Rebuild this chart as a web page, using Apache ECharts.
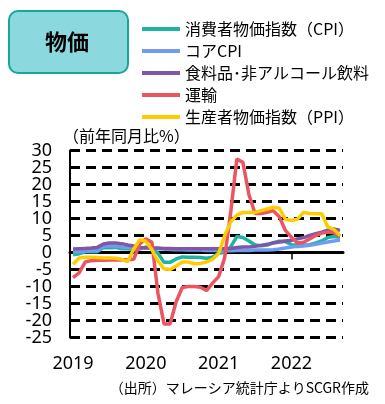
<!DOCTYPE html>
<html>
<head>
<meta charset="utf-8">
<script src="https://cdn.jsdelivr.net/npm/echarts@6/dist/echarts.min.js"></script>
<style>
html,body{margin:0;padding:0;background:#fff;}
#chart{width:385px;height:404px;}
</style>
</head>
<body>
<div id="chart"></div>
<script>
const months = [
 '2019-01','2019-02','2019-03','2019-04','2019-05','2019-06','2019-07','2019-08','2019-09','2019-10','2019-11','2019-12',
 '2020-01','2020-02','2020-03','2020-04','2020-05','2020-06','2020-07','2020-08','2020-09','2020-10','2020-11','2020-12',
 '2021-01','2021-02','2021-03','2021-04','2021-05','2021-06','2021-07','2021-08','2021-09','2021-10','2021-11','2021-12',
 '2022-01','2022-02','2022-03','2022-04','2022-05','2022-06','2022-07','2022-08','2022-09'
];
const yearLabels = ['2019','2020','2021','2022'];
const yMin = -25, yMax = 30, yStep = 5;

const seriesNames = ['消費者物価指数（CPI）','コアCPI','食料品･非アルコール飲料','運輸','生産者物価指数（PPI）'];
const seriesColors = ['#1fb3a3','#6f9cf0','#7e57a6','#eb5562','#ffcc00'];

const cpi = [-0.7,-0.4,0.2,0.2,0.2,1.5,1.4,1.5,1.1,1.1,0.9,1.0,
 1.6,1.3,-0.2,-2.9,-2.9,-1.9,-1.3,-1.4,-1.4,-1.5,-1.7,-1.4,
 -0.2,0.1,1.7,4.7,4.4,3.4,2.2,2.0,2.2,2.9,3.3,3.2,
 2.3,2.2,2.2,2.3,2.8,3.4,4.4,4.7,4.5];
const coreCpi = [0.2,0.3,0.4,0.5,0.5,1.8,1.9,1.9,1.6,1.5,1.4,1.3,
 1.3,1.2,1.1,1.0,0.9,0.8,0.8,0.7,0.7,0.7,0.6,0.6,
 0.6,0.5,0.5,0.6,0.6,0.6,0.7,0.7,0.7,0.8,1.0,1.3,
 1.6,1.8,1.9,2.1,2.4,2.8,3.1,3.4,3.7];
const food = [1.0,1.1,1.2,1.3,1.5,2.5,2.8,2.8,2.6,2.2,1.9,1.5,
 1.4,1.3,1.3,1.2,1.2,1.1,1.1,1.1,1.1,1.1,1.1,1.1,
 1.1,1.1,1.2,1.5,1.6,1.6,1.8,2.1,2.4,2.8,3.1,3.4,
 3.6,4.0,4.4,5.0,5.5,6.0,6.6,6.9,6.5];
const transport = [-7.4,-6.0,-2.8,-2.4,-2.3,-2.3,-2.2,-2.2,-2.2,-2.1,-2.0,2.5,
 4.0,3.0,-12.0,-21.0,-21.0,-14.5,-10.3,-10.0,-10.0,-10.2,-11.2,-9.0,
 -7.1,-1.5,12.0,27.5,26.5,17.0,11.5,11.5,11.8,12.3,10.5,6.5,
 4.5,2.8,3.0,4.0,5.0,5.7,6.0,5.8,4.8];
const ppi = [-3.5,-1.6,-1.4,-1.4,-1.5,-1.6,-1.6,-1.7,-2.0,-2.7,1.0,3.8,
 3.3,0.8,-2.5,-4.8,-5.0,-4.0,-2.8,-2.8,-3.3,-3.2,-2.8,-2.0,
 -0.3,5.0,9.0,11.0,11.8,11.8,11.8,12.3,12.8,13.3,13.0,9.8,
 9.4,9.8,11.8,11.5,11.4,11.4,7.5,6.8,5.0];

const seriesData = [cpi, coreCpi, food, transport, ppi];

const chart = echarts.init(document.getElementById('chart'), null, {renderer:'canvas'});

const lineSeries = seriesData.map((d, k) => ({
  name: seriesNames[k],
  type: 'line',
  data: d,
  xAxisIndex: 0,
  yAxisIndex: 0,
  symbol: 'none',
  smooth: false,
  lineStyle: {color: seriesColors[k], width: 3.5},
  itemStyle: {color: seriesColors[k]}
}));

const yLabelFont = {fontFamily:'Noto Sans', fontSize:18, color:'#000'};

const option = {
  animation: false,
  grid: {left:70, right:42, top:150.5, bottom:66.5},
  legend: {
    orient: 'vertical',
    left: 137,
    top: 16,
    itemWidth: 38,
    itemHeight: 4,
    itemGap: 6,
    icon: 'rect',
    data: seriesNames,
    textStyle: {fontFamily:'Noto Sans CJK JP', fontSize:16, color:'#000', lineHeight:16}
  },
  xAxis: [
    {
      type:'category', data: months, boundaryGap: true,
      axisLine: {onZero:true, onZeroAxisIndex:0, lineStyle:{color:'#000', width:3}},
      axisTick: {show:true, alignWithLabel:true, interval:(i)=> i === 36, length:7, lineStyle:{color:'#000', width:1.5}},
      axisLabel: {show:true, interval:(i)=> i === 36, formatter:()=>''},
      splitLine: {show:false}
    },
    {
      type:'category', data: months, boundaryGap: true, position:'bottom',
      axisLine: {show:false, onZero:false},
      axisTick: {show:false},
      splitLine: {show:false},
      axisLabel: {
        interval: (i)=> i % 12 === 0,
        formatter: (v, i)=> yearLabels[Math.floor(i/12)] || '',
        margin: 17,
        fontFamily:'Noto Sans', fontSize:18, color:'#000'
      }
    }
  ],
  yAxis: [
    {
      type:'value', min:yMin, max:yMax, interval:yStep, position:'left',
      axisLine: {show:true, onZero:false, lineStyle:{color:'#000', width:2}},
      axisTick: {show:false},
      splitLine: {show:true, lineStyle:{color:'#000', width:3, type:[10,6]}},
      axisLabel: Object.assign({showMinLabel:false, showMaxLabel:false, margin:18}, yLabelFont)
    },
    {
      type:'value', min:yMin, max:yMax, interval:yStep, position:'left', offset:0,
      axisLine: {show:false, onZero:false},
      axisTick: {show:false},
      splitLine: {show:false},
      axisLabel: Object.assign({showMinLabel:true, showMaxLabel:true, margin:18,
        formatter: (v)=> (v === yMin || v === yMax) ? String(v) : ''}, yLabelFont)
    }
  ],
  graphic: [
    {type:'rect', left:8, top:10, shape:{width:119, height:62, r:9},
     style:{fill:'#8bd9de', stroke:'#17a797', lineWidth:2}},
    {type:'text', x:67, y:42,
     style:{text:'物価', font:'bold 22px "Noto Sans CJK JP"', fill:'#000', align:'center', verticalAlign:'middle'}},
    {type:'text', x:63, y:136,
     style:{text:'（前年同月比%）', font:'16px "Noto Sans CJK JP"', fill:'#000', align:'left', verticalAlign:'middle'}},
    {type:'text', x:369, y:388,
     style:{text:'（出所）マレーシア統計庁よりSCGR作成', font:'14px "Noto Sans CJK JP"', fill:'#000', align:'right', verticalAlign:'middle'}}
  ],
  series: lineSeries
};
chart.setOption(option);
</script>
</body>
</html>
